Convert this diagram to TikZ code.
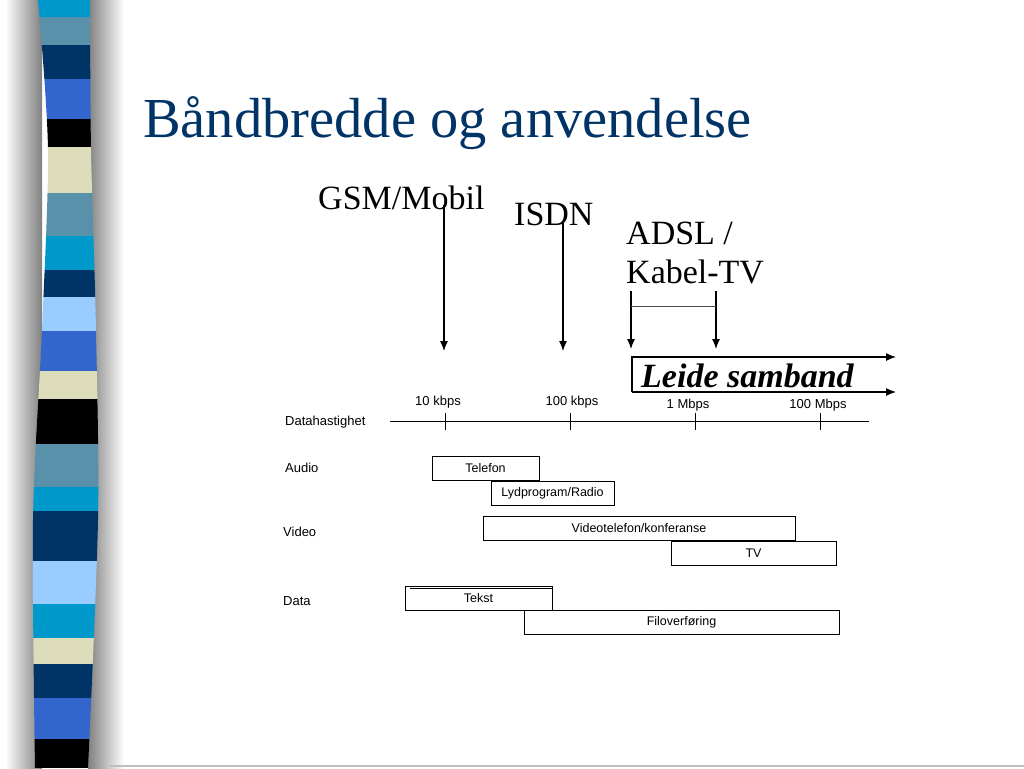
\documentclass[tikz,border=0pt]{standalone}
\usepackage{fontspec}
\setmainfont{Liberation Serif}
\setsansfont{Liberation Sans}
\usetikzlibrary{arrows.meta}
\definecolor{titleC}{RGB}{0,51,102}
\definecolor{cyanS}{RGB}{0,153,204}
\definecolor{steelS}{RGB}{90,145,170}
\definecolor{navyS}{RGB}{0,51,102}
\definecolor{royalS}{RGB}{51,102,204}
\definecolor{creamS}{RGB}{221,221,187}
\definecolor{lightS}{RGB}{153,204,255}
\tikzset{
  arr/.style={line width=1.2pt,-{Latex[length=10pt,width=8pt]}},
  box/.style={draw,line width=1pt,minimum height=24pt,inner sep=0pt,font=\sffamily\fontsize{12.5}{14}\selectfont},
  lab/.style={font=\sffamily\fontsize{13}{15}\selectfont,inner sep=0pt},
  big/.style={font=\fontsize{34}{39}\selectfont,inner sep=0pt},
}
\begin{document}
\begin{tikzpicture}[x=1pt,y=-1pt]
\useasboundingbox (0,0) rectangle (1024,768);
\fill[white] (0,0) rectangle (1024,768);
% shadow around stripe
\shade[left color=white,right color=black!50] (5,0) rectangle (42,768);
\shade[left color=black!50,right color=white] (88,0) rectangle (124,768);
% stripe
\begin{scope}
\clip plot[smooth] coordinates {(38,0) (48,150) (42,330) (33,520) (35,768)}
  -- plot[smooth] coordinates {(88,768) (98,520) (96,330) (91,150) (90,0)} -- cycle;
\foreach \a/\b/\c in {0/17/cyanS,17/45/steelS,45/79/navyS,79/119/royalS,119/147/black,
  147/193/creamS,193/236/steelS,236/270/cyanS,270/297/navyS,297/331/lightS,331/371/royalS,
  371/399/creamS,399/444/black,444/487/steelS,487/511/cyanS,511/561/navyS,561/604/lightS,
  604/638/cyanS,638/664/creamS,664/698/navyS,698/739/royalS,739/768/black}
  \fill[\c] (20,\a) rectangle (110,\b);
\end{scope}
\draw[black!25,line width=1.5pt] (110,766) -- (1024,766);
% title
\node[anchor=base west,inner sep=0pt,text=titleC,font=\fontsize{56.5}{60}\selectfont] (title) at (143,137) {Båndbredde og anvendelse};
% top labels
\node[big,anchor=base west] (gsm) at (318,209) {GSM/Mobil};
\node[big,anchor=base west] (isdn) at (514,225) {ISDN};
\node[big,anchor=base west,align=left] (adsl) at (626,244) {ADSL /};
\node[big,anchor=base west] (kabel) at (626,283) {Kabel-TV};
\coordinate (gsmA) at (444,205);
\coordinate (gsmB) at (444,351);
\coordinate (isdnA) at (563,223);
\coordinate (isdnB) at (563,351);
\coordinate (adA) at (631,291);
\coordinate (adB) at (631,349);
\coordinate (adC) at (716,291);
\coordinate (adD) at (716,349);
\coordinate (adL) at (631,306);
\coordinate (adR) at (716,306);
\draw[arr] (gsmA) -- (gsmB);
\draw[arr] (isdnA) -- (isdnB);
\draw[arr] (adA) -- (adB);
\draw[arr] (adC) -- (adD);
\draw[line width=0.8pt,black!70] (adL) -- (adR);
% leide samband
\coordinate (lsT) at (632,357);
\coordinate (lsB) at (632,392);
\coordinate (lsTE) at (896,357);
\coordinate (lsBE) at (896,392);
\draw[arr] (lsB) -- (lsT) -- (lsTE);
\draw[arr] (lsB) -- (lsBE);
\node[anchor=base west,inner sep=0pt,font=\fontsize{34}{39}\selectfont\bfseries\itshape] (leide) at (641,387) {Leide samband};
% axis
\node[lab,anchor=west] (dh) at (285,422) {Datahastighet};
\coordinate (axL) at (390,421);
\coordinate (axR) at (869,421);
\draw[line width=1pt] (axL) -- (axR);
\foreach \x/\n in {445/t1,570/t2,695/t3,820/t4}{
  \coordinate (\n a) at (\x,413);
  \coordinate (\n b) at (\x,430);
  \draw[line width=1pt] (\n a) -- (\n b);
}
\node[lab] (k10) at (438,402) {10 kbps};
\node[lab] (k100) at (572,402) {100 kbps};
\node[lab] (m1) at (688,405) {1 Mbps};
\node[lab] (m100) at (818,405) {100 Mbps};
% rows
\node[lab,anchor=west] (audio) at (285,468) {Audio};
\node[lab,anchor=west] (video) at (283,532) {Video};
\node[lab,anchor=west] (data) at (283,601) {Data};
\node[box,minimum width=107pt] (tel) at (485.5,468) {Telefon};
\node[box,minimum width=123pt] (lyd) at (552.5,493) {Lydprogram/Radio};
\node[box,minimum width=312pt] (vtel) at (639,528) {Videotelefon/konferanse};
\node[box,minimum width=165pt] (tv) at (753.5,553) {TV};
\node[box,minimum width=147pt] (tekst) at (478.5,598) {Tekst};
\node[box,minimum width=315pt] (filo) at (681.5,622) {Filoverføring};
\coordinate (tkL) at (410,588);
\coordinate (tkR) at (553,588);
\draw[line width=1pt] (tkL) -- (tkR);
\end{tikzpicture}
\end{document}
